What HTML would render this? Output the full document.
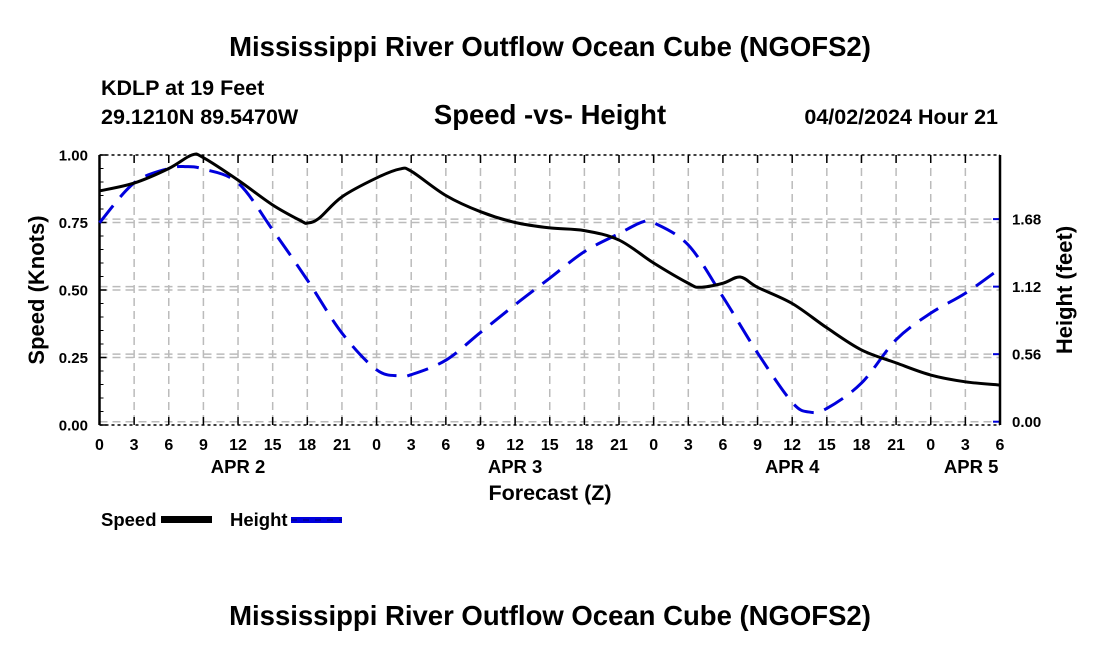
<!DOCTYPE html>
<html><head><meta charset="utf-8"><style>
body{margin:0;background:#fff}
svg{display:block;font-family:"Liberation Sans",sans-serif;font-weight:bold}
</style></head><body>
<svg id="c" width="1100" height="650" viewBox="0 0 1100 650">
<text x="550" y="56" font-size="27.5" text-anchor="middle">Mississippi River Outflow Ocean Cube (NGOFS2)</text>
<text x="101" y="95" font-size="21.5">KDLP at 19 Feet</text>
<text x="101" y="124" font-size="21.5">29.1210N  89.5470W</text>
<text x="550" y="124" font-size="27.5" text-anchor="middle">Speed -vs- Height</text>
<text x="998" y="124" font-size="21.5" text-anchor="end">04/02/2024 Hour 21</text>
<g id="grid"></g>
<g id="axes"></g>
<g id="series"></g>
<text x="550" y="500" font-size="21.5" text-anchor="middle">Forecast (Z)</text>
<text transform="translate(44,290) rotate(-90)" font-size="22" text-anchor="middle">Speed (Knots)</text>
<text transform="translate(1072,290) rotate(-90)" font-size="22" text-anchor="middle">Height (feet)</text>
<g>
<text x="101" y="526" font-size="18.5">Speed</text>
<rect x="161" y="516" width="51" height="7" fill="#000"/>
<text x="230" y="526" font-size="18.5">Height</text>
<rect x="291" y="517" width="51" height="6" fill="#0000dd"/>
<line x1="291" y1="520" x2="342" y2="520" stroke="#000" stroke-width="1" stroke-dasharray="6 6" opacity="0.5"/>
</g>
<text x="550" y="625" font-size="27.5" text-anchor="middle">Mississippi River Outflow Ocean Cube (NGOFS2)</text>
</svg>
<script>
const speedHours=[0,3,6,8,9,12,15,17.5,18,19,21,24,26,27,30,33,36,39,42,45,48,51,52,54,55.5,57,60,63,66,69,72,75,78];
const speedVals=[0.867,0.896,0.95,1.0,0.99,0.907,0.815,0.755,0.748,0.765,0.845,0.915,0.948,0.94,0.85,0.79,0.75,0.73,0.72,0.685,0.60,0.525,0.51,0.525,0.548,0.51,0.45,0.36,0.278,0.23,0.185,0.16,0.148];
const heightHours=[0,3,6,7.5,9,12,15,18,21,24,26,27,30,33,36,39,42,45,47,48,51,54,57,60,61.5,63,66,69,72,75,78];
const heightVals=[1.65,1.98,2.10,2.115,2.095,1.98,1.59,1.175,0.735,0.43,0.38,0.39,0.51,0.74,0.97,1.19,1.41,1.56,1.655,1.65,1.465,1.035,0.57,0.16,0.08,0.11,0.32,0.68,0.90,1.065,1.27];
const xTickLabels=["0","3","6","9","12","15","18","21","0","3","6","9","12","15","18","21","0","3","6","9","12","15","18","21","0","3","6"];
const dayLabels=[["APR 2",12],["APR 3",36],["APR 4",60],["APR 5",75.5]];
const speedTicks=[0,0.25,0.5,0.75,1.0];
const heightTicks=[0,0.56,1.12,1.68];
const L=99.5,R=1000,T=155,B=425;
const X=h=>L+(R-L)*h/78;
const YS=v=>B-(B-T)*v;
const YH=v=>421.7-120.6*v;
const NS="http://www.w3.org/2000/svg";
function mk(p,t,a){const e=document.createElementNS(NS,t);for(const k in a)e.setAttribute(k,a[k]);p.appendChild(e);return e;}
const grid=document.getElementById('grid'),axes=document.getElementById('axes'),series=document.getElementById('series');
xTickLabels.forEach((lab,i)=>{const x=X(i*3);
 if(i>0&&i<26){const g=mk(grid,'line',{x1:x,y1:T,x2:x,y2:B,stroke:'#bbb','stroke-width':1.5,'stroke-dasharray':'8 5'});
 
 }
 mk(axes,'line',{x1:x,y1:B,x2:x,y2:B-8,stroke:'#000','stroke-width':1.5});
 mk(axes,'line',{x1:x,y1:T,x2:x,y2:T+8,stroke:'#000','stroke-width':1.5});
 const t=mk(axes,'text',{x:x,y:450,'font-size':16,'text-anchor':'middle'});t.textContent=lab;
 
 
});
dayLabels.forEach(d=>{const t=mk(axes,'text',{x:X(d[1]),y:473,'font-size':18.5,'text-anchor':'middle'});t.textContent=d[0];
 
 });
speedTicks.forEach(v=>{const y=YS(v);
 if(v>0&&v<1){const g=mk(grid,'line',{x1:L,y1:y,x2:R,y2:y,stroke:'#bbb','stroke-width':1.5,'stroke-dasharray':'8 5'});
 
 }
 mk(axes,'line',{x1:L,y1:y,x2:L+7,y2:y,stroke:'#000','stroke-width':1.5});
 const t=mk(axes,'text',{x:88,y:y+5.5,'font-size':15,'text-anchor':'end'});t.textContent=v.toFixed(2);
 
 });
for(let v=0.05;v<1;v+=0.05){if(Math.abs(v*4-Math.round(v*4))>0.01)mk(axes,'line',{x1:L,y1:YS(v),x2:L+4,y2:YS(v),stroke:'#000','stroke-width':1});}
heightTicks.forEach(v=>{const y=YH(v);
 const g=mk(grid,'line',{x1:L,y1:y,x2:R,y2:y,stroke:'#bbb','stroke-width':1.5,'stroke-dasharray':'8 5'});
 
 
 mk(axes,'line',{x1:R,y1:y,x2:R-7,y2:y,stroke:'#0000dd','stroke-width':2});
 const t=mk(axes,'text',{x:1012,y:y+5.5,'font-size':15});t.textContent=v.toFixed(2);
 
 });
mk(axes,'line',{x1:L,y1:T,x2:R,y2:T,stroke:'#000','stroke-width':1.5,'stroke-dasharray':'3 3'});
mk(axes,'line',{x1:L,y1:B,x2:R,y2:B,stroke:'#000','stroke-width':1.5,'stroke-dasharray':'3 3'});
mk(axes,'line',{x1:L,y1:T,x2:L,y2:B,stroke:'#000','stroke-width':2.5});
mk(axes,'line',{x1:R,y1:T,x2:R,y2:B,stroke:'#000','stroke-width':2.5});
function smooth(xs,ys){const p=xs.map((x,i)=>[x,ys[i]]);let d='M'+p[0][0]+','+p[0][1];
 for(let i=0;i<p.length-1;i++){const p0=p[i-1]||p[i],p1=p[i],p2=p[i+1],p3=p[i+2]||p2;
 const c1=[p1[0]+(p2[0]-p0[0])/6,p1[1]+(p2[1]-p0[1])/6],c2=[p2[0]-(p3[0]-p1[0])/6,p2[1]-(p3[1]-p1[1])/6];
 d+=`C${c1[0]},${c1[1]} ${c2[0]},${c2[1]} ${p2[0]},${p2[1]}`;}return d;}
const hp=mk(series,'path',{d:smooth(heightHours.map(X),heightVals.map(YH)),fill:'none',stroke:'#0000dd','stroke-width':3,'stroke-dasharray':'22 11'});


const sp=mk(series,'path',{d:smooth(speedHours.map(X),speedVals.map(YS)),fill:'none',stroke:'#000','stroke-width':3});


</script>
</body></html>
